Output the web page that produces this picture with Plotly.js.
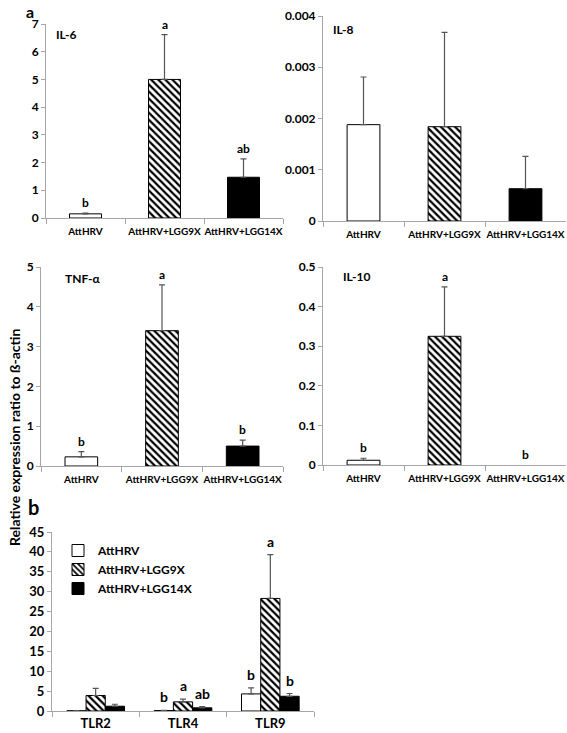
<!DOCTYPE html>
<html>
<head>
<meta charset="utf-8">
<script src="https://cdn.plot.ly/plotly-3.0.1.min.js"></script>
<style>html,body{margin:0;padding:0;background:#fff;}#chart{width:567px;height:733px;}</style>
</head>
<body>
<div id="chart"></div>
<script>
// ---------- data ----------
var groups = ['AttHRV', 'AttHRV+LGG9X', 'AttHRV+LGG14X'];

var il6 = [0.15, 5.0, 1.47];
var il6Err = [0.03, 1.62, 0.66];
var il6Letters = ['b', 'a', 'ab'];

var il8 = [0.00188, 0.00184, 0.00063];
var il8Err = [0.00093, 0.00184, 0.00063];
var il8Letters = ['', '', ''];

var tnf = [0.23, 3.4, 0.5];
var tnfErr = [0.13, 1.15, 0.15];
var tnfLetters = ['b', 'a', 'b'];

var il10 = [0.012, 0.325, 0];
var il10Err = [0.005, 0.125, 0];
var il10Letters = ['b', 'a', 'b'];

var tlrGenes = ['TLR2', 'TLR4', 'TLR9'];
var tlrAtt = [0.05, 0.1, 4.3];
var tlrAttErr = [0.05, 0.05, 1.5];
var tlrLgg9 = [3.9, 2.3, 28.3];
var tlrLgg9Err = [1.8, 0.7, 11.0];
var tlrLgg14 = [1.2, 0.8, 3.7];
var tlrLgg14Err = [0.5, 0.3, 0.7];
var tlrAttLetters = ['', 'b', 'b'];
var tlrLgg9Letters = ['', 'a', 'a'];
var tlrLgg14Letters = ['', 'ab', 'b'];

var yTicks1 = [0, 1, 2, 3, 4, 5, 6, 7];
var yTicks2 = [0, 0.001, 0.002, 0.003, 0.004];
var yTicks3 = [0, 1, 2, 3, 4, 5];
var yTicks4 = [0, 0.1, 0.2, 0.3, 0.4, 0.5];
var yTicks5 = [0, 5, 10, 15, 20, 25, 30, 35, 40, 45];

// ---------- styling helpers ----------
var W = 567, H = 733;
function px(v) { return v / W; }
function py(v) { return 1 - v / H; }
var FONT = 'Lato, "Open Sans", sans-serif';
var AXC = '#a6a6a6';
var ERRC = '#555555';

var fills = ['white', 'white', 'black'];
var shapes = ['', '\\', ''];
var BARW = 0.405;

var data = [];
function panelTraces(vals, errs, xa, ya) {
  groups.forEach(function (g, i) {
    data.push({
      type: 'bar', x: [g], y: [vals[i]], xaxis: xa, yaxis: ya,
      width: BARW, offset: -BARW / 2,
      showlegend: false, hoverinfo: 'x+y',
      marker: { color: fills[i], line: { color: 'black', width: vals[i] > 0 ? 1 : 0 },
        pattern: { shape: shapes[i], fgcolor: 'black', bgcolor: fills[i], size: 5, solidity: 0.45 } },
      error_y: { type: 'data', symmetric: false, array: [errs[i]], arrayminus: [0],
        color: ERRC, thickness: 1.2, width: 3, visible: errs[i] > 0 }
    });
  });
}

function tlrTrace(name, vals, errs, color, shape) {
  return {
    type: 'bar', name: name, x: tlrGenes, y: vals, xaxis: 'x5', yaxis: 'y5',
    marker: { color: color, line: { color: 'black', width: 1 },
      pattern: { shape: shape, fgcolor: 'black', bgcolor: color, size: 5, solidity: 0.45 } },
    error_y: { type: 'data', symmetric: false, array: errs, arrayminus: [0, 0, 0],
      color: ERRC, thickness: 1.2, width: 3 }
  };
}

panelTraces(il6, il6Err, 'x', 'y');
panelTraces(il8, il8Err, 'x2', 'y2');
panelTraces(tnf, tnfErr, 'x3', 'y3');
panelTraces(il10, il10Err, 'x4', 'y4');
data.push(tlrTrace('AttHRV', tlrAtt, tlrAttErr, 'white', ''));
data.push(tlrTrace('AttHRV+LGG9X', tlrLgg9, tlrLgg9Err, 'white', '\\'));
data.push(tlrTrace('AttHRV+LGG14X', tlrLgg14, tlrLgg14Err, 'black', ''));

function xAxis(x0, x1, anchor, size, standoff) {
  return {
    domain: [px(x0), px(x1)], anchor: anchor, type: 'category',
    showline: true, linecolor: AXC, linewidth: 1, tickangle: 0,
    ticks: 'outside', tickson: 'boundaries', ticklen: 5, tickcolor: AXC,
    ticklabelstandoff: standoff,
    showgrid: false, zeroline: false, fixedrange: true,
    tickfont: { family: FONT, size: size, color: '#000', weight: 'bold' }
  };
}
function yAxis(top, bottom, anchor, range, ticks, size, fmt) {
  return {
    domain: [py(bottom), py(top)], anchor: anchor, range: range,
    tickvals: ticks, ticktext: ticks.map(fmt),
    showline: true, linecolor: AXC, linewidth: 1,
    ticks: 'outside', ticklen: 4, tickcolor: AXC,
    showgrid: false, zeroline: false, fixedrange: true,
    tickfont: { family: FONT, size: size, color: '#000', weight: 'bold' }
  };
}
function plain(v) { return String(v); }
function dec3(v) { return v === 0 ? '0' : v.toFixed(3); }
function dec1(v) { return v === 0 ? '0' : v.toFixed(1); }

var annotations = [];
function letterAnns(letters, vals, errs, xa, ya, size, xshift, yshift) {
  letters.forEach(function (l, i) {
    if (!l) return;
    annotations.push({
      xref: xa, yref: ya, x: i, y: vals[i] + errs[i], text: l,
      showarrow: false, yanchor: 'bottom', xshift: xshift || 0, yshift: yshift,
      font: { family: FONT, size: size, color: '#000', weight: 'bold' }
    });
  });
}
letterAnns(il6Letters, il6, il6Err, 'x', 'y', 12, 0, 1);
letterAnns(il8Letters, il8, il8Err, 'x2', 'y2', 12, 0, 1);
letterAnns(tnfLetters, tnf, tnfErr, 'x3', 'y3', 12, 0, 1);
letterAnns(il10Letters, il10, il10Err, 'x4', 'y4', 12, 0, 1);
letterAnns(tlrAttLetters, tlrAtt, tlrAttErr, 'x5', 'y5', 14, -19.3, 3);
letterAnns(tlrLgg9Letters, tlrLgg9, tlrLgg9Err, 'x5', 'y5', 14, 0, 3);
letterAnns(tlrLgg14Letters, tlrLgg14, tlrLgg14Err, 'x5', 'y5', 14, 19.3, 3);

function label(text, x, y, size, xanchor, yanchor) {
  annotations.push({
    xref: 'paper', yref: 'paper', x: px(x), y: py(y), text: text,
    showarrow: false, xanchor: xanchor || 'left', yanchor: yanchor || 'middle',
    font: { family: FONT, size: size, color: '#000', weight: 'bold' }
  });
}
label('IL-6', 54, 34, 12);
label('IL-8', 331, 30, 12);
label('TNF-α', 63, 278, 12);
label('IL-10', 341, 277, 12);
label('a', 30, 0, 16, 'center', 'top');
label('b', 33, 507, 20, 'center');

annotations.push({
  xref: 'paper', yref: 'paper', x: px(14), y: py(437),
  text: 'Relative expression ratio to ß-actin', textangle: -90,
  showarrow: false, xanchor: 'center', yanchor: 'middle',
  font: { family: FONT, size: 14, color: '#000', weight: 'bold' }
});

var layout = {
  width: W, height: H,
  margin: { l: 0, r: 0, t: 0, b: 0 },
  paper_bgcolor: 'white', plot_bgcolor: 'white',
  barmode: 'group', bargap: 0.34, bargroupgap: 0,
  showlegend: true,
  legend: {
    x: px(58), y: py(536), xanchor: 'left', yanchor: 'top',
    bgcolor: 'rgba(0,0,0,0)', borderwidth: 0, tracegroupgap: 0, itemwidth: 30,
    font: { family: FONT, size: 12, color: '#000', weight: 'bold' }
  },
  xaxis: xAxis(46, 283, 'y', 10, 4),
  yaxis: yAxis(24, 218, 'x', [0, 7], yTicks1, 12, plain),
  xaxis2: xAxis(323, 566, 'y2', 10, 4),
  yaxis2: yAxis(16, 221, 'x2', [0, 0.004], yTicks2, 12, dec3),
  xaxis3: xAxis(41, 283, 'y3', 10, 4),
  yaxis3: yAxis(267, 466, 'x3', [0, 5], yTicks3, 12, plain),
  xaxis4: xAxis(323, 566, 'y4', 10, 4),
  yaxis4: yAxis(267, 465, 'x4', [0, 0.5], yTicks4, 12, dec1),
  xaxis5: xAxis(52, 314, 'y5', 13, 0),
  yaxis5: yAxis(532, 711, 'x5', [0, 45], yTicks5, 13, plain),
  annotations: annotations
};

Plotly.newPlot('chart', data, layout, { displayModeBar: false, staticPlot: true });
</script>
</body>
</html>
